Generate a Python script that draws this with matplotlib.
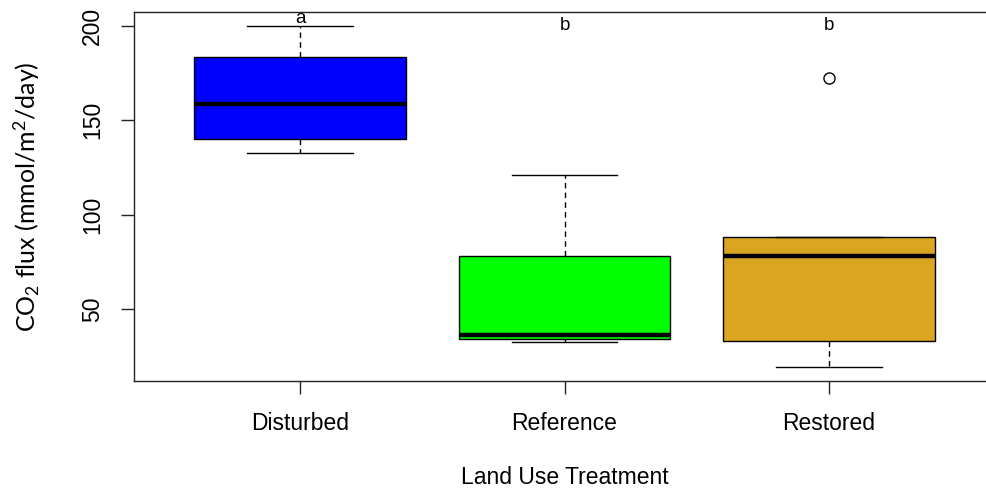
import matplotlib
matplotlib.use("Agg")
import matplotlib.pyplot as plt

categories = ["Disturbed", "Reference", "Restored"]
whisker_low = [132.7, 32.5, 19.2]
q1 = [140.0, 34.0, 33.0]
medians = [158.6, 36.2, 78.0]
q3 = [183.6, 78.0, 88.1]
whisker_high = [200.0, 121.0, 88.1]
outliers = [[], [], [172.4]]
colors = ["#0000FF", "#00FF00", "#DAA520"]
letters = ["a", "b", "b"]
yticks = [50, 100, 150, 200]

plt.rcParams['mathtext.fontset'] = 'custom'
plt.rcParams['mathtext.rm'] = 'Lato'
plt.rcParams['mathtext.it'] = 'Lato'

fig = plt.figure(figsize=(9.86, 4.9), dpi=100)
ax = fig.add_axes([134/986, (490-381)/490, 861/986, 369/490])

stats = []
for i, c in enumerate(categories):
    stats.append(dict(label=c, whislo=whisker_low[i], q1=q1[i], med=medians[i],
                      q3=q3[i], whishi=whisker_high[i], fliers=outliers[i]))

positions = [1, 2, 3]
bp = ax.bxp(stats, positions=positions, widths=0.8, patch_artist=True,
            showfliers=True,
            boxprops=dict(edgecolor="black", linewidth=1.0),
            medianprops=dict(color="black", linewidth=3.2, solid_capstyle="butt"),
            whiskerprops=dict(color="black", linewidth=1.0, linestyle=(0, (4, 3))),
            capprops=dict(color="black", linewidth=1.0),
            capwidths=0.4,
            flierprops=dict(marker="o", markerfacecolor="none", markeredgecolor="black",
                            markersize=8, markeredgewidth=1.0))
for patch, col in zip(bp["boxes"], colors):
    patch.set_facecolor(col)

ax.set_xlim(0.372, 3.628)
ax.set_ylim(11.8, 207.4)

ax.set_yticks(yticks)
ax.set_yticklabels([str(t) for t in yticks], rotation=90, va="center",
                   fontfamily="Liberation Sans", fontsize=16.5)
ax.set_xticks(positions)
ax.set_xticklabels(categories, fontfamily="Liberation Sans", fontsize=16.5)
ax.tick_params(axis="both", length=9.5, width=1.0, color="#222222")
ax.tick_params(axis="y", pad=12)
ax.tick_params(axis="x", pad=13)

for s in ax.spines.values():
    s.set_linewidth(1.0)
    s.set_color("#222222")

letter_y = [201.6, 197.9, 197.9]
for x, lab, y in zip(positions, letters, letter_y):
    ax.text(x, y, lab, ha="center", va="baseline", fontsize=13.5,
            fontfamily="Liberation Sans")

ax.set_xlabel("Land Use Treatment", fontfamily="Liberation Sans", fontsize=16.5, labelpad=22)
ax.set_ylabel(r"CO$_2$ flux (mmol/m$^2$/day)", fontfamily="Lato", fontsize=18, labelpad=28)

fig.savefig("out.png", dpi=100)
